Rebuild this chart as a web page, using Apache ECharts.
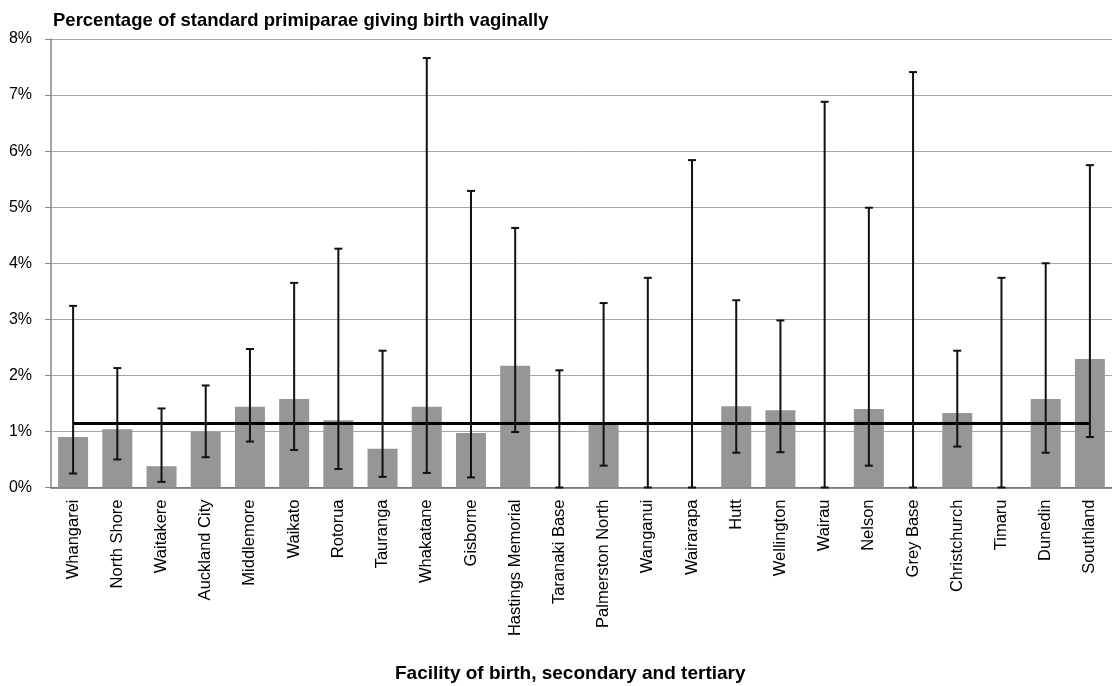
<!DOCTYPE html>
<html>
<head>
<meta charset="utf-8">
<script src="https://cdn.jsdelivr.net/npm/echarts@6/dist/echarts.min.js"></script>
<style>
html,body{margin:0;padding:0;background:#fff;}
#chart{width:1112px;height:686px;}
</style>
</head>
<body>
<div id="chart"></div>
<script>
const categories = ["Whangarei","North Shore","Waitakere","Auckland City","Middlemore","Waikato","Rotorua","Tauranga","Whakatane","Gisborne","Hastings Memorial","Taranaki Base","Palmerston North","Wanganui","Wairarapa","Hutt","Wellington","Wairau","Nelson","Grey Base","Christchurch","Timaru","Dunedin","Southland"];
const rate  = [0.90,1.04,0.38,1.00,1.44,1.58,1.20,0.69,1.44,0.97,2.17,0,1.13,0,0,1.45,1.38,0,1.40,0,1.33,0,1.58,2.29];
const upper = [3.24,2.13,1.41,1.82,2.47,3.65,4.26,2.44,7.66,5.29,4.63,2.09,3.29,3.74,5.84,3.34,2.98,6.88,4.99,7.41,2.44,3.74,4.00,5.75];
const lower = [0.25,0.50,0.10,0.54,0.82,0.67,0.33,0.19,0.26,0.18,0.99,0,0.39,0,0,0.62,0.63,0,0.39,0,0.73,0,0.62,0.90];
const nationalRate = 1.14;
const yTicks = [0,1,2,3,4,5,6,7,8];
const titleText = "Percentage of standard primiparae giving birth vaginally";
const xAxisTitle = "Facility of birth, secondary and tertiary";

const chart = echarts.init(document.getElementById('chart'), null, {renderer:'canvas'});
const errData = categories.map((c,i)=>[i, lower[i], upper[i]]);
const FONT = '"Liberation Sans", Arial, sans-serif';

chart.setOption({
  animation:false,
  backgroundColor:'#fff',
  title:[
    {text:titleText, left:48, top:6, textStyle:{fontFamily:FONT, fontSize:18.5, fontWeight:'bold', color:'#000'}},
    {text:xAxisTitle, left:390, top:659, textStyle:{fontFamily:FONT, fontSize:19, fontWeight:'bold', color:'#000'}}
  ],
  grid:{left:51, top:39, width:1070.4, height:448.5, containLabel:false},
  xAxis:{
    type:'category',
    data:categories,
    axisLine:{show:true, lineStyle:{color:'#6e6e6e', width:1.5}},
    axisTick:{show:false},
    axisLabel:{rotate:90, margin:12, interval:0, fontFamily:FONT, fontSize:16.5, color:'#000'},
    splitLine:{show:false}
  },
  yAxis:{
    type:'value',
    min:yTicks[0], max:yTicks[yTicks.length-1], interval:1,
    axisLine:{show:true, lineStyle:{color:'#868686', width:1.5}},
    axisTick:{show:true, inside:false, length:6, lineStyle:{color:'#868686'}},
    axisLabel:{formatter:'{value}%', margin:19, fontFamily:FONT, fontSize:16, color:'#000'},
    splitLine:{show:true, lineStyle:{color:'#a6a6a6', width:1}}
  },
  series:[
    {
      type:'bar',
      data:rate,
      barWidth:30,
      itemStyle:{color:'#969696'},
      z:2,
      markLine:{
        silent:true,
        symbol:['none','none'],
        label:{show:false},
        lineStyle:{color:'#000', width:3, type:'solid'},
        data:[[{coord:[categories[0], nationalRate]},{coord:[categories[categories.length-1], nationalRate]}]]
      }
    },
    {
      type:'custom',
      data:errData,
      z:5,
      renderItem:function(params, api){
        const idx = api.value(0);
        const lo = api.coord([idx, api.value(1)]);
        const hi = api.coord([idx, api.value(2)]);
        const hw = 4;
        const st = {stroke:'#111', lineWidth:2};
        return {type:'group', children:[
          {type:'line', shape:{x1:lo[0], y1:lo[1], x2:hi[0], y2:hi[1]}, style:st},
          {type:'line', shape:{x1:hi[0]-hw, y1:hi[1], x2:hi[0]+hw, y2:hi[1]}, style:st},
          {type:'line', shape:{x1:lo[0]-hw, y1:lo[1], x2:lo[0]+hw, y2:lo[1]}, style:st}
        ]};
      }
    }
  ]
});
</script>
</body>
</html>
